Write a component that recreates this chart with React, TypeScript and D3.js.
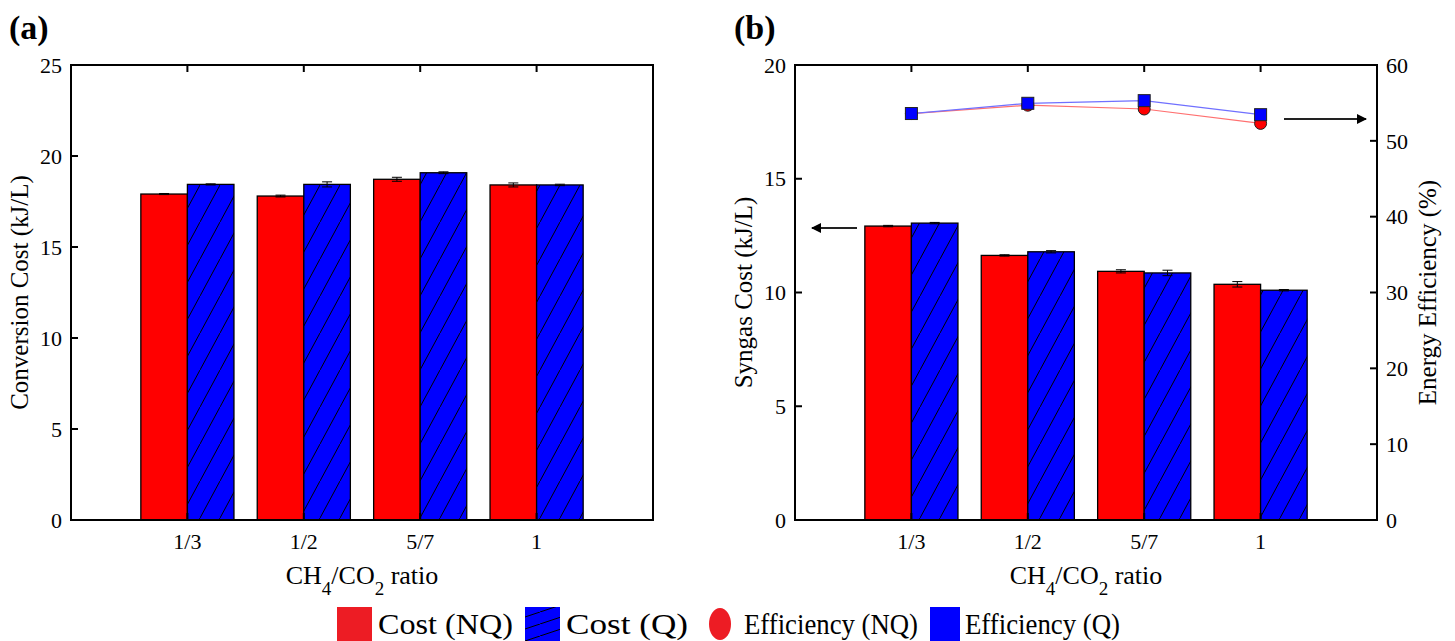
import React, { useEffect } from "react";
import * as d3 from "d3";

const categories = ["1/3", "1/2", "5/7", "1"];
const convNQ = [17.91, 17.8, 18.72, 18.41];
const convQ = [18.44, 18.44, 19.08, 18.41];
const convNQErr = [0.03, 0.05, 0.11, 0.11];
const convQErr = [0.03, 0.14, 0.05, 0.04];
const synNQ = [12.92, 11.63, 10.93, 10.36];
const synQ = [13.05, 11.79, 10.86, 10.1];
const synNQErr = [0.03, 0.03, 0.07, 0.12];
const synQErr = [0.03, 0.05, 0.12, 0.03];
const effNQ = [53.6, 54.7, 54.2, 52.3];
const effQ = [53.6, 54.95, 55.3, 53.45];
const leftTicksA = [0, 5, 10, 15, 20, 25];
const leftTicksB = [0, 5, 10, 15, 20];
const rightTicksB = [0, 10, 20, 30, 40, 50, 60];
const legendLabels = ["Cost (NQ)", "Cost (Q)", "Efficiency (NQ)", "Efficiency (Q)"];

const RED = "#ff0000";
const BLUE = "#0000ff";
const FONT = "'Liberation Serif', 'Times New Roman', serif";
const TOP = 65;
const BOTTOM = 520;
const TICK = 7;

type PanelProps = {
  left: number;
  right: number;
  ymax: number;
  yticks: number[];
  nq: number[];
  q: number[];
  nqErr: number[];
  qErr: number[];
  ylabel: string;
  tag: string;
  tagX: number;
  children?: React.ReactNode;
};

function Panel(p: PanelProps) {
  const x = d3.scaleLinear().domain([0, 5]).range([p.left, p.right]);
  const y = d3.scaleLinear().domain([0, p.ymax]).range([BOTTOM, TOP]);
  const bw = x(0.4) - x(0);
  const cx = (p.left + p.right) / 2;
  const bars: React.ReactNode[] = [];
  categories.forEach((c, i) => {
    const xc = x(i + 1);
    bars.push(
      <rect key={"n" + i} x={xc - bw} y={y(p.nq[i])} width={bw} height={y(0) - y(p.nq[i])} fill={RED} stroke="#000" strokeWidth={1.3} />
    );
    bars.push(
      <rect key={"qb" + i} x={xc} y={y(p.q[i])} width={bw} height={y(0) - y(p.q[i])} fill={BLUE} />
    );
    bars.push(
      <rect key={"qh" + i} x={xc} y={y(p.q[i])} width={bw} height={y(0) - y(p.q[i])} fill="url(#hatch)" stroke="#000" strokeWidth={1.3} />
    );
  });
  const errs: React.ReactNode[] = [];
  categories.forEach((c, i) => {
    const xc = x(i + 1);
    [
      [xc - bw / 2, p.nq[i], p.nqErr[i]],
      [xc + bw / 2, p.q[i], p.qErr[i]],
    ].forEach(([ex, v, e], j) => {
      const y1 = y(v + e);
      const y2 = y(v - e);
      errs.push(
        <g key={"e" + i + "_" + j} stroke="#000" strokeWidth={1}>
          <line x1={ex} x2={ex} y1={y1} y2={y2} />
          <line x1={ex - 5} x2={ex + 5} y1={y1} y2={y1} />
          <line x1={ex - 5} x2={ex + 5} y1={y2} y2={y2} />
        </g>
      );
    });
  });
  return (
    <g>
      <text x={p.tagX} y={39} fontFamily={FONT} fontWeight="bold" fontSize={34}>{p.tag}</text>
      {bars}
      {errs}
      {p.children}
      <rect x={p.left} y={TOP} width={p.right - p.left} height={BOTTOM - TOP} fill="none" stroke="#000" strokeWidth={2} />
      {p.yticks.map((t) => (
        <g key={"yt" + t}>
          <line x1={p.left} x2={p.left + TICK} y1={y(t)} y2={y(t)} stroke="#000" strokeWidth={2} />
          <text x={p.left - 9} y={y(t)} dy="0.35em" textAnchor="end" fontFamily={FONT} fontSize={22}>{t}</text>
        </g>
      ))}
      {categories.map((c, i) => (
        <g key={"xt" + i}>
          <line x1={x(i + 1)} x2={x(i + 1)} y1={BOTTOM} y2={BOTTOM - TICK} stroke="#000" strokeWidth={2} />
          <line x1={x(i + 1)} x2={x(i + 1)} y1={TOP} y2={TOP + TICK} stroke="#000" strokeWidth={2} />
          <text x={x(i + 1)} y={549} textAnchor="middle" fontFamily={FONT} fontSize={22}>{c}</text>
        </g>
      ))}
      <text x={cx} y={584} textAnchor="middle" fontFamily={FONT} fontSize={26}>
        CH<tspan baselineShift="sub" fontSize={19}>4</tspan>/CO<tspan baselineShift="sub" fontSize={19}>2</tspan> ratio
      </text>
      <text transform={`translate(${p.left - 43},${(TOP + BOTTOM) / 2}) rotate(-90)`} textAnchor="middle" fontFamily={FONT} fontSize={25}>{p.ylabel}</text>
    </g>
  );
}

export default function App() {
  useEffect(() => {
    document.body.style.margin = "0";
  }, []);
  const bL = 795;
  const bR = 1377;
  const xb = d3.scaleLinear().domain([0, 5]).range([bL, bR]);
  const yr = d3.scaleLinear().domain([0, 60]).range([BOTTOM, TOP]);
  const lineGen = d3
    .line<number>()
    .x((_, i) => xb(i + 1))
    .y((v) => yr(v));
  return (
    <svg width={1455} height={641} style={{ display: "block", background: "#fff" }}>
      <defs>
        <pattern id="hatch" patternUnits="userSpaceOnUse" width={20} height={37}>
          <line x1={0} y1={37} x2={20} y2={0} stroke="#000" strokeWidth={1} />
        </pattern>
        <pattern id="hatchL" patternUnits="userSpaceOnUse" width={36} height={12}>
          <line x1={0} y1={12} x2={36} y2={0} stroke="#000" strokeWidth={1} />
        </pattern>
        <marker id="arrow" viewBox="0 0 10 10" refX={9} refY={5} markerWidth={5} markerHeight={5} orient="auto-start-reverse">
          <path d="M0,0 L10,5 L0,10 z" fill="#000" />
        </marker>
      </defs>
      <rect x={0} y={0} width={1455} height={641} fill="#fff" />
      <Panel left={71} right={653} ymax={25} yticks={leftTicksA} nq={convNQ} q={convQ} nqErr={convNQErr} qErr={convQErr} ylabel="Conversion Cost (kJ/L)" tag="(a)" tagX={9} />
      <Panel left={bL} right={bR} ymax={20} yticks={leftTicksB} nq={synNQ} q={synQ} nqErr={synNQErr} qErr={synQErr} ylabel="Syngas Cost (kJ/L)" tag="(b)" tagX={734}>
        <path d={lineGen(effNQ) || ""} fill="none" stroke="#ff7070" strokeWidth={1.2} />
        <path d={lineGen(effQ) || ""} fill="none" stroke="#7070ff" strokeWidth={1.2} />
        {effNQ.map((v, i) => (
          <circle key={"c" + i} cx={xb(i + 1)} cy={yr(v)} r={6} fill={RED} stroke="#222" strokeWidth={1} />
        ))}
        {effQ.map((v, i) => (
          <rect key={"s" + i} x={xb(i + 1) - 6} y={yr(v) - 6} width={12} height={12} fill={BLUE} stroke="#222" strokeWidth={1} />
        ))}
        {rightTicksB.map((t) => (
          <g key={"rt" + t}>
            <line x1={bR} x2={bR - TICK} y1={yr(t)} y2={yr(t)} stroke="#000" strokeWidth={2} />
            <text x={bR + 9} y={yr(t)} dy="0.35em" textAnchor="start" fontFamily={FONT} fontSize={22}>{t}</text>
          </g>
        ))}
        <text transform={`translate(${1436},${(TOP + BOTTOM) / 2}) rotate(-90)`} textAnchor="middle" fontFamily={FONT} fontSize={25}>Energy Efficiency (%)</text>
        <line x1={857} y1={228} x2={812} y2={228} stroke="#222" strokeWidth={2} markerEnd="url(#arrow)" />
        <line x1={1284} y1={119} x2={1366} y2={119} stroke="#222" strokeWidth={2} markerEnd="url(#arrow)" />
      </Panel>
      <g fontFamily={FONT} fontSize={29}>
        <rect x={337} y={607} width={35} height={34} fill="#ed1c24" />
        <text x={378} y={634} textLength={135} lengthAdjust="spacingAndGlyphs">{legendLabels[0]}</text>
        <rect x={525} y={607} width={35} height={34} fill={BLUE} />
        <rect x={525} y={607} width={35} height={34} fill="url(#hatchL)" />
        <text x={566} y={634} textLength={122} lengthAdjust="spacingAndGlyphs">{legendLabels[1]}</text>
        <ellipse cx={720} cy={624} rx={11} ry={16} fill="#ed1c24" />
        <text x={744} y={634} textLength={174} lengthAdjust="spacingAndGlyphs">{legendLabels[2]}</text>
        <rect x={930} y={607} width={30} height={34} fill={BLUE} />
        <text x={965} y={634} textLength={155} lengthAdjust="spacingAndGlyphs">{legendLabels[3]}</text>
      </g>
    </svg>
  );
}
